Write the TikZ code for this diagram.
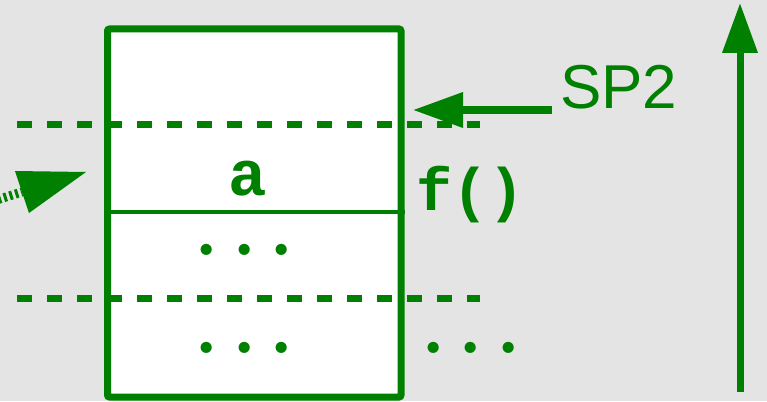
\documentclass[tikz,border=0pt]{standalone}
\usepackage{fontspec}
\setmainfont{Liberation Sans}
\setmonofont{Liberation Mono}
\newfontfamily\dotfont{Latin Modern Roman}
\usetikzlibrary{arrows.meta}
\definecolor{dg}{RGB}{0,128,0}
\definecolor{bgc}{RGB}{228,228,228}
\begin{document}
\begin{tikzpicture}[x=1pt,y=-1pt,
  txt/.style={inner sep=0pt, text=dg},
  mono/.style={txt, font=\ttfamily\bfseries\fontsize{#1}{#1}\selectfont},
  dotstyle/.style={txt, font=\dotfont\bfseries\fontsize{78}{78}\selectfont},
  divider/.style={draw=dg, line width=7pt, dash pattern=on 15pt off 15pt},
  bigarrow/.style={draw=dg, line width=7pt, -{Triangle[length=50pt,width=34pt]}},
  stackbox/.style={draw=dg, line width=7pt, fill=white, inner sep=0pt, rounded corners=2pt}]
\useasboundingbox (0,0) rectangle (767,401);
\fill[bgc] (0,0) rectangle (767,401);
% stack frame box
\node[stackbox, minimum width=293.5pt, minimum height=368pt] (box) at (254.25,213) {};
% dividers
\coordinate (d1a) at (17,124.5);  \coordinate (d1b) at (480,124.5);
\coordinate (d2a) at (17,298.5);  \coordinate (d2b) at (480,298.5);
\draw[divider] (d1a) -- (d1b);
\draw[divider] (d2a) -- (d2b);
\draw[dg, line width=3.5pt] (box.west |- 0,212) ++(3.5,0) coordinate (s1) -- (box.east |- 0,212) ++(-3.5,0) coordinate (s2);
% texts
\node[mono=64, anchor=base] (a) at (247.5,195) {a};
\node[mono=60, anchor=base west] (f) at (416,210) {f()};
\node[dotstyle, anchor=base] (dots1) at (244.5,255.5) {.\kern13pt.\kern13pt.};
\node[dotstyle, anchor=base] (dots2) at (244.5,353.5) {.\kern13pt.\kern13pt.};
\node[dotstyle, anchor=base] (dots3) at (471,353.5) {.\kern13pt.\kern13pt.};
\node[txt, font=\fontsize{62}{62}\selectfont, anchor=base west] (sp2) at (560,109) {SP2};
% SP2 arrow
\coordinate (sp2tip) at (413,110);
\draw[bigarrow] (sp2.west |- sp2tip) ++(-8,0) -- (sp2tip);
% right vertical arrow
\coordinate (up0) at (740,392); \coordinate (up1) at (740,3);
\draw[bigarrow] (up0) -- (up1);
% left arrow
\coordinate (l0) at (-42,212); \coordinate (lb) at (22,192);
\coordinate (lh1) at (15,171); \coordinate (lh2) at (86,172); \coordinate (lh3) at (29,213);
\draw[dg, line width=9pt, dash pattern=on 3pt off 3pt] (l0) -- (lb);
\fill[dg] (lh1) -- (lh2) -- (lh3) -- cycle;
\end{tikzpicture}
\end{document}
